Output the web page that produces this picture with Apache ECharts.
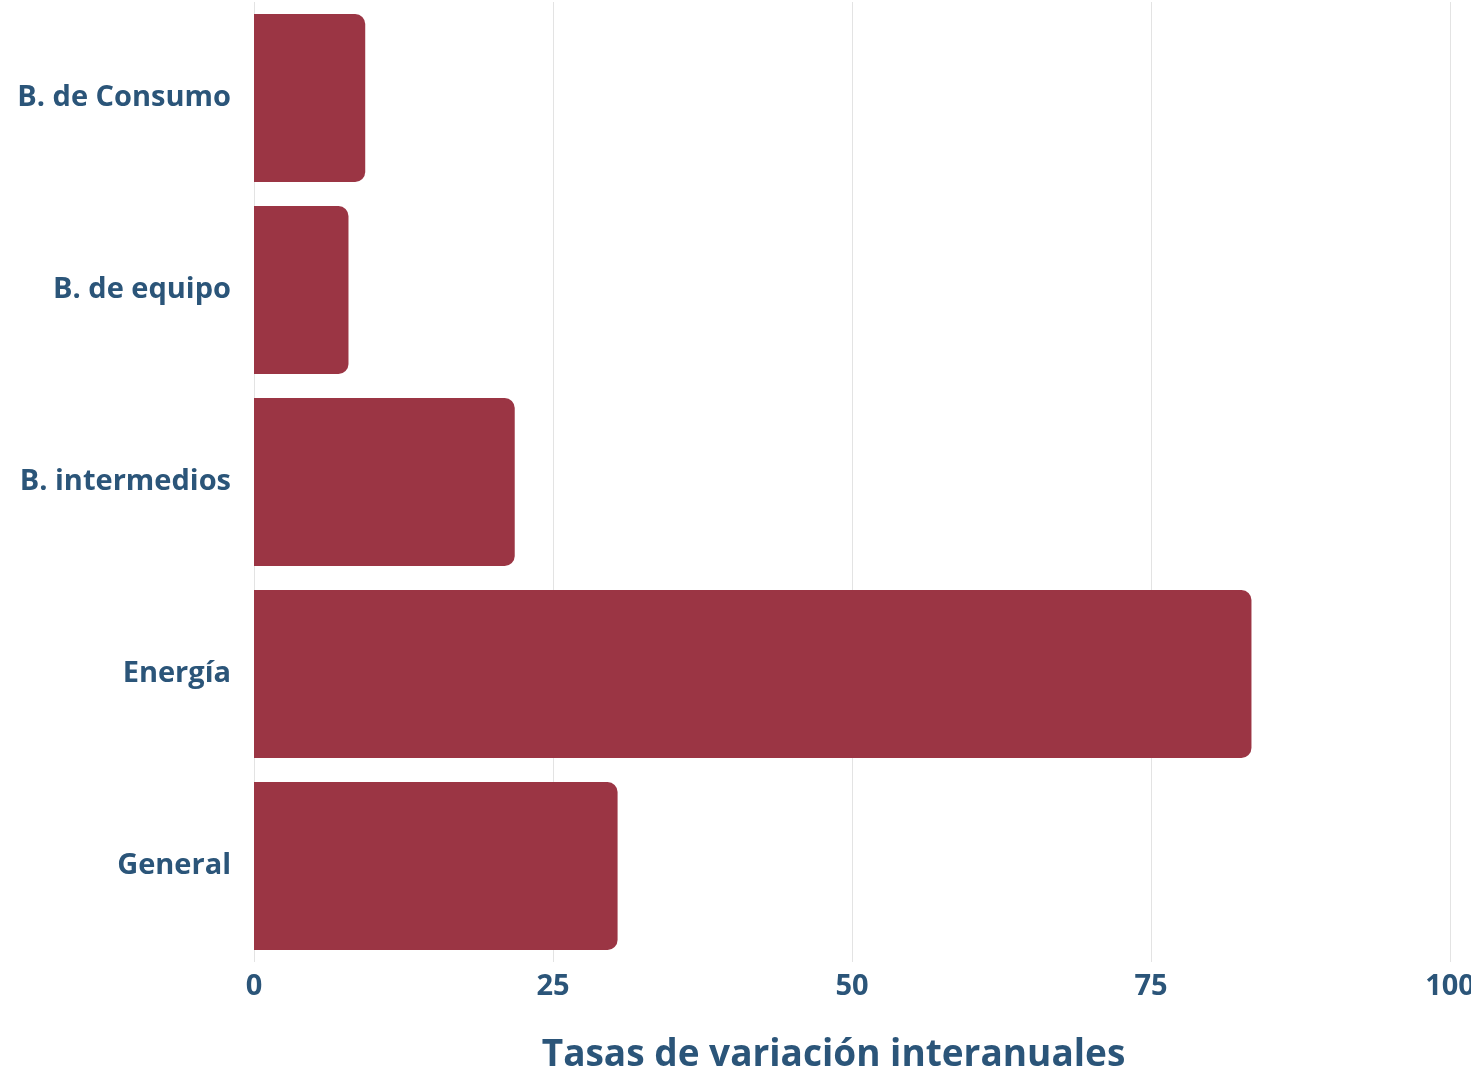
<!DOCTYPE html>
<html><head><meta charset="utf-8">
<script src="https://cdn.jsdelivr.net/npm/echarts@6/dist/echarts.min.js"></script>
<style>html,body{margin:0;padding:0;background:#fff;overflow:hidden}#c{width:1471px;height:1072px}</style>
</head><body><div id="c"></div>
<script>
const categories = ["General", "Energía", "B. intermedios", "B. de equipo", "B. de Consumo"];
const values = [30.4, 83.4, 21.8, 7.9, 9.3];
const xTicks = [0, 25, 50, 75, 100];
const textColor = "#2b5579";
const chart = echarts.init(document.getElementById('c'));
chart.setOption({
  animation: false,
  grid: {left: 254, right: 21, top: 2, bottom: 110, containLabel: false, outerBoundsMode: 'none'},
  xAxis: {
    type: 'value', min: xTicks[0], max: xTicks[xTicks.length - 1], interval: 25,
    name: 'Tasas de variación interanuales', nameLocation: 'middle', nameGap: 75,
    nameTextStyle: {fontFamily: 'Open Sans', fontWeight: 'bold', fontSize: 37, color: textColor, padding: [0, 37, 0, 0]},
    axisLine: {show: false}, axisTick: {show: false},
    axisLabel: {fontFamily: 'Open Sans', fontWeight: 'bold', fontSize: 29, color: textColor, margin: 10},
    splitLine: {show: true, lineStyle: {color: '#e3e3e3', width: 1}}
  },
  yAxis: {
    type: 'category', data: categories,
    axisLine: {show: false}, axisTick: {show: false},
    axisLabel: {fontFamily: 'Open Sans', fontWeight: 'bold', fontSize: 29, color: textColor, margin: 23}
  },
  series: [{
    type: 'bar', data: values, barCategoryGap: '12.5%',
    itemStyle: {color: '#9b3544', borderRadius: [0, 10, 10, 0]}
  }]
});
</script></body></html>
